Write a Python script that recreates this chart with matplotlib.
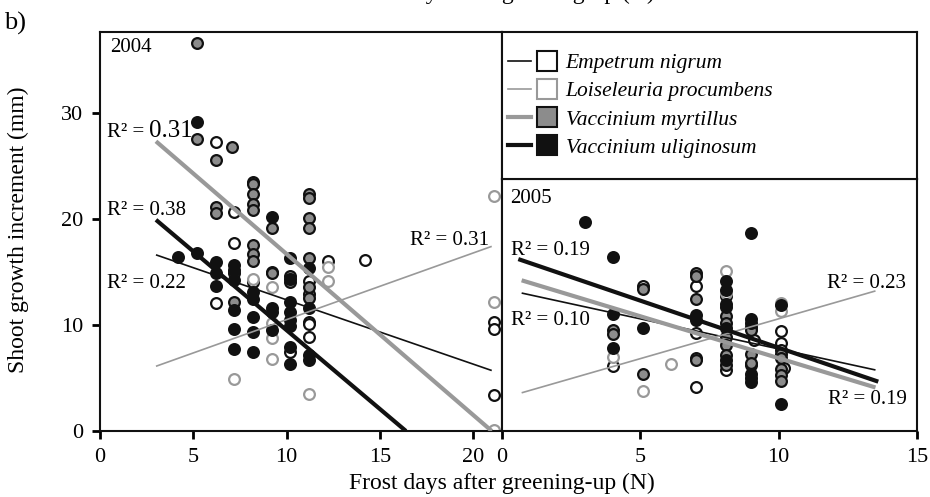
import matplotlib
matplotlib.use("Agg")

import matplotlib.pyplot as plt
from matplotlib.lines import Line2D
from matplotlib.legend_handler import HandlerTuple

plt.rcParams["font.family"] = ["Liberation Serif", "DejaVu Serif"]

# Arten und Stil
species = ["Empetrum nigrum", "Loiseleuria procumbens",
           "Vaccinium myrtillus", "Vaccinium uliginosum"]
face_colors = ["white", "white", "#8c8c8c", "#111111"]
edge_colors = ["#111111", "#999999", "#111111", "#111111"]
line_colors = ["#111111", "#999999", "#999999", "#111111"]
line_widths = [1.2, 1.2, 3.0, 3.0]

# 2004 Messpunkte (Frosttage, Zuwachs mm)
en_2004_x = [6.2, 7.2, 7.2, 6.2, 8.2, 9.2, 10.2, 11.2, 11.2, 11.2, 11.2, 11.2, 12.2, 14.2, 21.1, 21.1, 21.1]
en_2004_y = [27.2, 20.6, 17.7, 12.1, 14.0, 15.0, 7.4, 14.1, 12.9, 10.3, 10.1, 8.9, 16.0, 16.1, 10.3, 9.6, 3.4]
lp_2004_x = [21.1, 7.2, 8.2, 9.2, 9.2, 9.2, 9.2, 11.2, 12.2, 12.2, 21.1, 21.1]
lp_2004_y = [22.1, 4.9, 14.3, 13.6, 10.2, 8.8, 6.8, 3.5, 15.5, 14.1, 12.2, 0.1]
vm_2004_x = [5.2, 5.2, 7.1, 6.2, 8.2, 8.2, 8.2, 8.2, 8.2, 6.2, 6.2, 9.2, 11.2, 11.2,
             11.2, 11.2, 8.2, 8.2, 8.2, 7.2, 7.2, 9.2, 10.2, 10.2, 11.2, 11.2, 11.2]
vm_2004_y = [36.6, 27.5, 26.8, 25.5, 23.5, 23.3, 22.3, 21.4, 20.8, 21.1, 20.5, 19.1, 22.3, 22.0,
             20.1, 19.1, 17.5, 16.7, 16.0, 14.9, 12.2, 14.9, 14.6, 14.0, 16.3, 13.6, 12.5]
vu_2004_x = [5.2, 9.2, 4.2, 5.2, 6.2, 6.2, 6.2, 7.2, 7.2, 7.2, 7.2, 7.2, 7.2, 8.2, 8.2, 8.2, 8.2,
             8.2, 9.2, 9.2, 9.2, 10.2, 10.2, 10.2, 10.2, 10.2, 10.2, 10.2, 10.2, 11.2, 11.2, 11.2, 11.2]
vu_2004_y = [29.1, 20.2, 16.4, 16.8, 15.9, 14.9, 13.7, 15.6, 15.2, 14.2, 11.4, 9.6, 7.7, 13.1, 12.4, 10.7, 9.3,
             7.4, 11.6, 11.2, 9.5, 16.3, 14.3, 12.2, 11.2, 10.5, 9.9, 7.9, 6.3, 15.4, 11.6, 7.2, 6.7]

# 2005 Messpunkte
en_2005_x = [4.0, 5.1, 7.0, 7.0, 7.0, 7.0, 8.1, 8.1, 9.1, 10.1, 10.1, 10.1, 10.2, 9.0]
en_2005_y = [6.1, 13.7, 13.7, 9.2, 6.9, 4.1, 12.7, 5.75, 8.6, 9.4, 8.3, 7.6, 5.9, 6.2]
lp_2005_x = [4.0, 5.1, 6.1, 8.1, 8.1, 10.1, 10.1]
lp_2005_y = [7.0, 3.8, 6.3, 15.1, 13.0, 12.1, 11.3]
vm_2005_x = [4.0, 4.0, 5.1, 5.1, 7.0, 7.0, 7.0, 7.0, 8.1, 8.1, 8.1, 8.1, 8.1, 8.1,
             9.0, 9.0, 9.0, 9.0, 10.1, 10.1, 10.1, 10.1, 10.1]
vm_2005_y = [9.5, 9.1, 13.4, 5.4, 14.9, 14.6, 12.4, 6.7, 10.8, 10.2, 8.9, 8.1, 7.2, 6.2,
             9.8, 9.5, 7.3, 6.4, 7.3, 6.9, 5.8, 5.3, 4.7]
vu_2005_x = [3.0, 9.0, 4.0, 4.0, 4.0, 5.1, 7.0, 7.0, 8.1, 8.1, 8.1, 8.1, 8.1, 8.1,
             9.0, 9.0, 9.0, 9.0, 9.0, 10.1, 10.1]
vu_2005_y = [19.7, 18.7, 16.4, 11.0, 7.8, 9.7, 10.9, 10.5, 14.1, 13.3, 12.0, 11.7, 9.7, 6.7,
             10.6, 10.2, 5.4, 5.0, 4.6, 11.9, 2.5]

# Regressionsgeraden (Start/Ende)
fit_2004_x = [[3.0, 21.0], [3.0, 21.0], [3.0, 21.0], [3.0, 16.4]]
fit_2004_y = [[16.6, 5.7], [6.1, 17.4], [27.3, 0.0], [19.9, 0.0]]
fit_2005_x = [[0.71, 13.5], [0.71, 13.5], [0.71, 13.5], [0.59, 13.6]]
fit_2005_y = [[13.0, 5.75], [3.6, 13.2], [14.2, 4.1], [16.2, 4.65]]

points_2004 = [(en_2004_x, en_2004_y), (lp_2004_x, lp_2004_y),
               (vm_2004_x, vm_2004_y), (vu_2004_x, vu_2004_y)]
points_2005 = [(en_2005_x, en_2005_y), (lp_2005_x, lp_2005_y),
               (vm_2005_x, vm_2005_y), (vu_2005_x, vu_2005_y)]


def draw_panel(ax, points, fit_x, fit_y):
    for i, (xs, ys) in enumerate(points):
        ax.scatter(xs, ys, s=60, facecolor=face_colors[i], edgecolor=edge_colors[i],
                   linewidths=1.6, zorder=2, clip_on=True)
    for i in range(4):
        ax.plot(fit_x[i], fit_y[i], color=line_colors[i], lw=line_widths[i],
                solid_capstyle="butt", zorder=3)
    for sp in ax.spines.values():
        sp.set_linewidth(1.5)
        sp.set_color("#111111")
    ax.tick_params(direction="out", length=6, width=2, labelsize=16, pad=6)


fig = plt.figure(figsize=(9.3, 4.97), dpi=100)
W, H = 930, 497

ax1 = fig.add_axes([100 / W, 66 / H, 402 / W, 399 / H])
ax2 = fig.add_axes([502 / W, 66 / H, 415 / W, 252 / H])
ax_leg = fig.add_axes([502 / W, 318 / H, 415 / W, 147 / H])

# 2004
draw_panel(ax1, points_2004, fit_2004_x, fit_2004_y)
ax1.set_xlim(0, 21.55)
ax1.set_ylim(0, 37.6)
ax1.set_xticks([0, 5, 10, 15, 20])
ax1.set_yticks([0, 10, 20, 30])
ax1.text(0.54, 35.7, "2004", fontsize=15)
ax1.text(0.37, 27.7, "R² = ", fontsize=15)
ax1.text(2.6, 27.7, "0.31", fontsize=18)
ax1.text(0.37, 20.4, "R² = 0.38", fontsize=15)
ax1.text(0.37, 13.5, "R² = 0.22", fontsize=15)
ax1.text(16.6, 17.5, "R² = 0.31", fontsize=15)

# 2005
draw_panel(ax2, points_2005, fit_2005_x, fit_2005_y)
ax2.set_xlim(0, 15)
ax2.set_ylim(0, 252 / 399 * 37.6)
ax2.set_xticks([0, 5, 10, 15])
ax2.set_yticks([])
ax2.text(0.29, 21.5, "2005", fontsize=15)
ax2.text(0.31, 16.6, "R² = 0.19", fontsize=15)
ax2.text(0.31, 10.0, "R² = 0.10", fontsize=15)
ax2.text(11.74, 13.5, "R² = 0.23", fontsize=15)
ax2.text(11.78, 2.55, "R² = 0.19", fontsize=15)

# Legende
ax_leg.set_xticks([])
ax_leg.set_yticks([])
for sp in ax_leg.spines.values():
    sp.set_linewidth(1.5)
    sp.set_color("#111111")
handles = []
for i in range(4):
    ln = Line2D([], [], color=line_colors[i], lw=line_widths[i])
    sq = Line2D([], [], marker="s", ms=15, ls="none", markerfacecolor=face_colors[i],
                markeredgecolor=edge_colors[i], markeredgewidth=1.5)
    handles.append((ln, sq))
ax_leg.legend(handles, species, handler_map={tuple: HandlerTuple(ndivide=None, pad=0.2)},
              loc="center left", frameon=False, handlelength=2.3, handletextpad=0.35,
              labelspacing=0.38, borderaxespad=0.0, borderpad=0.3,
              prop={"style": "italic", "size": 15.5})

# Beschriftungen
label = "Frost days after greening-up (N)"
fig.text(502 / W, 1 - 489 / H, label, ha="center", va="baseline", fontsize=17)
fig.text(502 / W, 1 + 1 / H, label, ha="center", va="baseline", fontsize=17)
fig.text(18 / W, 1 - 230 / H, "Shoot growth increment (mm)", rotation=90,
         ha="center", va="center", fontsize=17)
fig.text(4 / W, 1 - 30 / H, "b)", fontsize=19, va="baseline")

fig.savefig("out.png", dpi=100)
plt.close(fig)
